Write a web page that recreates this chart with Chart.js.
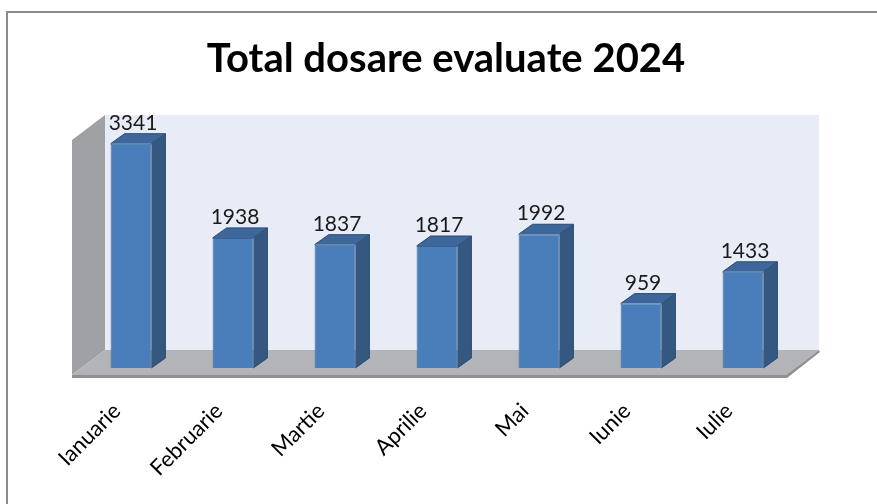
<!DOCTYPE html>
<html>
<head>
<meta charset="utf-8">
<script src="https://cdn.jsdelivr.net/npm/chart.js@4.4.1/dist/chart.umd.min.js"></script>
<style>
  html, body { margin: 0; padding: 0; background: #fff; }
  #wrap { width: 877px; height: 504px; }
</style>
</head>
<body>
<div id="wrap"><canvas id="c" width="877" height="504"></canvas></div>
<script>
const titleText = 'Total dosare evaluate 2024';
const months = ['Ianuarie', 'Februarie', 'Martie', 'Aprilie', 'Mai', 'Iunie', 'Iulie'];
const dosare = [3341, 1938, 1837, 1817, 1992, 959, 1433];
const yMax = 3500;

// depth of the 3D box (walls / floor) and of the bars
const wallFront = { dx: -8, dy: 7 };
const wallBack = { dx: 25, dy: -18 };
const barDepth = { dx: 14, dy: -10 };

function poly(ctx, pts, fill) {
	ctx.beginPath();
	ctx.moveTo(pts[0][0], pts[0][1]);
	for (let i = 1; i < pts.length; i++) ctx.lineTo(pts[i][0], pts[i][1]);
	ctx.closePath();
	ctx.fillStyle = fill;
	ctx.fill();
}

const box3d = {
	id: 'box3d',
	beforeDraw(chart) {
		const { ctx, chartArea: a } = chart;
		ctx.save();
		// frame of the chart
		ctx.strokeStyle = '#8c8c8c';
		ctx.lineWidth = 2;
		ctx.beginPath();
		ctx.moveTo(7, 520);
		ctx.lineTo(7, 12);
		ctx.lineTo(880, 12);
		ctx.stroke();

		// title
		ctx.fillStyle = '#000';
		ctx.font = 'bold 40px Lato';
		ctx.textAlign = 'center';
		ctx.textBaseline = 'alphabetic';
		ctx.fillText(titleText, 446, 72);

		const bl = a.left + wallBack.dx, br = a.right + wallBack.dx;
		const bt = a.top + wallBack.dy, bb = a.bottom + wallBack.dy;
		const fl = a.left + wallFront.dx, fr = a.right + wallFront.dx;
		const ft = a.top + wallFront.dy, fb = a.bottom + wallFront.dy;
		// back wall
		poly(ctx, [[bl, bt], [br, bt], [br, bb], [bl, bb]], '#e8ecf6');
		// left wall
		poly(ctx, [[fl, ft], [bl, bt], [bl, bb], [fl, fb]], '#9fa1a4');
		// floor
		poly(ctx, [[bl, bb], [br, bb], [fr, fb], [fl, fb]], '#b3b4b7');
		// floor edge
		poly(ctx, [[fl, fb], [fr, fb], [br, bb], [br + 1, bb + 2], [fr + 1, fb + 3], [fl, fb + 3]], '#8e9093');
		ctx.restore();
	},
	afterDatasetsDraw(chart) {
		const { ctx } = chart;
		const meta = chart.getDatasetMeta(0);
		ctx.save();
		meta.data.forEach((bar, i) => {
			const { x, y, base, width } = bar.getProps(['x', 'y', 'base', 'width'], true);
			const l = x - width / 2, r = x + width / 2;
			const dx = barDepth.dx, dy = barDepth.dy;
			poly(ctx, [[r, y], [r + dx, y + dy], [r + dx, base + dy], [r, base]], '#34587f');
			poly(ctx, [[l, y], [r, y], [r + dx, y + dy], [l + dx, y + dy]], '#3d679a');
			ctx.strokeStyle = '#2c4b70';
			ctx.lineWidth = 1;
			ctx.beginPath();
			ctx.moveTo(l, y);
			ctx.lineTo(l + dx, y + dy);
			ctx.lineTo(r + dx, y + dy);
			ctx.lineTo(r + dx, base + dy);
			ctx.lineTo(r, base);
			ctx.moveTo(r, y);
			ctx.lineTo(r + dx, y + dy);
			ctx.stroke();

			ctx.fillStyle = '#1a1a1a';
			ctx.font = '21px Lato';
			ctx.textAlign = 'center';
			ctx.textBaseline = 'alphabetic';
			ctx.fillText(String(dosare[i]), x + 2, y - 14);
		});
		ctx.restore();
	}
};

new Chart(document.getElementById('c'), {
	type: 'bar',
	data: {
		labels: months,
		datasets: [{
			data: dosare,
			backgroundColor: '#4a7ebb',
			borderColor: '#3a6494',
			borderWidth: 1,
			categoryPercentage: 1,
			barPercentage: 0.4,
		}]
	},
	options: {
		responsive: false,
		animation: false,
		layout: { padding: { left: 80, right: 83, top: 133, bottom: 0 } },
		plugins: {
			legend: { display: false },
			tooltip: { enabled: false },
			title: { display: false }
		},
		scales: {
			y: { display: false, min: 0, max: yMax },
			x: {
				grid: { display: false, drawTicks: false },
				border: { display: false },
				afterFit(scale) { scale.height = 136; },
				ticks: {
					minRotation: 45,
					maxRotation: 45,
					padding: 30,
					labelOffset: -14,
					color: '#000',
					font: { family: 'Lato', size: 22 }
				}
			}
		}
	},
	plugins: [box3d]
});
</script>
</body>
</html>
